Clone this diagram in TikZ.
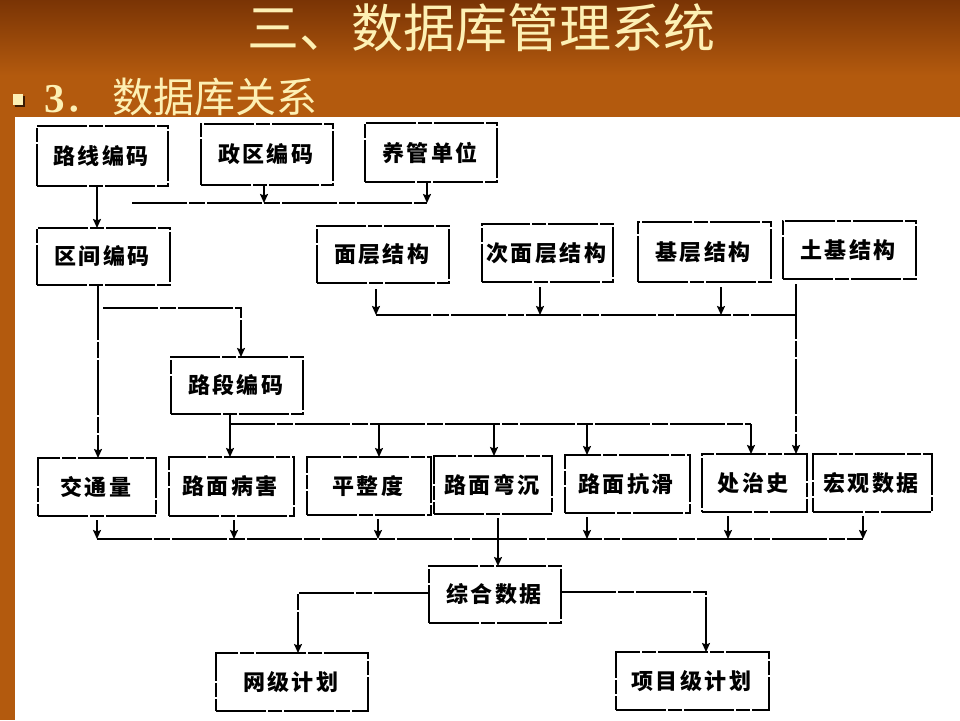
\documentclass[tikz,border=0pt]{standalone}
\usepackage{fontspec}
\setmainfont{Liberation Serif}
\newfontfamily\cjk{Noto Sans CJK SC}
\usetikzlibrary{arrows.meta}
\definecolor{bgtop}{HTML}{7A3405}
\definecolor{bgmid}{HTML}{B35A0E}
\definecolor{cream}{HTML}{FDF0B4}
\definecolor{shad}{HTML}{3A1A02}
\def\spc#1{\spcA#1\relax}
\def\spcA#1{\ifx#1\relax\else#1\kern2.5pt\expandafter\spcA\fi}
\tikzset{
  bx/.style={draw=black, fill=white, line width=1.6pt, inner sep=0pt, outer sep=0pt,
    dash pattern=on 50pt off 2pt on 14pt off 2pt,
    font=\cjk\bfseries\fontsize{22}{22}\selectfont},
  ln/.style={draw=black, line width=1.6pt, dash pattern=on 55pt off 2pt on 16pt off 2pt},
  ar/.style={ln, -{Stealth[length=9pt,width=8pt,inset=1.5pt]}},
  ttl/.style={font=\cjk\fontsize{52}{52}\selectfont, inner sep=0pt, text=cream},
}
\begin{document}
\begin{tikzpicture}[x=1pt,y=-1pt]
\useasboundingbox (0,0) rectangle (960,720);
% background
\fill[bgmid] (0,0) rectangle (960,720);
\shade[top color=bgtop, bottom color=bgmid] (0,0) rectangle (960,75);
\fill[white] (15,117) rectangle (960,720);
% title
\node[ttl] (title) at (481,28) {三、数据库管理系统};
% subtitle
\fill[shad] (15,96) rectangle (25,107);
\fill[cream] (13,94) rectangle (23,105);
\node[anchor=west, inner sep=0pt, text=cream] (sub) at (44,97)
  {\fontsize{41}{41}\selectfont\bfseries 3{\cjk\mdseries ．\kern7pt 数据库关系}};
% boxes
\node[bx, minimum width=131pt, minimum height=60pt] (lx) at (102.5,156) {\spc{路线编码}};
\node[bx, minimum width=132pt, minimum height=61pt] (zq) at (267,154.5) {\spc{政区编码}};
\node[bx, minimum width=132pt, minimum height=59pt] (yg) at (431,152.5) {\spc{养管单位}};
\node[bx, minimum width=133pt, minimum height=57pt] (qj) at (103.5,256.5) {\spc{区间编码}};
\node[bx, minimum width=132pt, minimum height=57pt] (mc) at (383,254.5) {\spc{面层结构}};
\node[bx, minimum width=131pt, minimum height=58pt] (cm) at (547.5,253) {\spc{次面层结构}};
\node[bx, minimum width=133pt, minimum height=60pt] (jc) at (704.5,252) {\spc{基层结构}};
\node[bx, minimum width=133pt, minimum height=58pt] (tj) at (849.5,250) {\spc{土基结构}};
\node[bx, minimum width=132pt, minimum height=57pt] (ld) at (237,385.5) {\spc{路段编码}};
\node[bx, minimum width=118pt, minimum height=58pt] (jtl) at (97,487) {\spc{交通量}};
\node[bx, minimum width=125pt, minimum height=59pt] (bh) at (231.5,486.5) {\spc{路面病害}};
\node[bx, minimum width=124pt, minimum height=58pt] (pzd) at (369,486) {\spc{平整度}};
\node[bx, minimum width=118pt, minimum height=58pt] (wc) at (493,485) {\spc{路面弯沉}};
\node[bx, minimum width=125pt, minimum height=58pt] (kh) at (627.5,484) {\spc{路面抗滑}};
\node[bx, minimum width=105pt, minimum height=58pt] (czs) at (754.5,483) {\spc{处治史}};
\node[bx, minimum width=119pt, minimum height=58pt] (hg) at (872.5,483) {\spc{宏观数据}};
\node[bx, minimum width=132pt, minimum height=57pt] (zh) at (495,594.5) {\spc{综合数据}};
\node[bx, minimum width=152pt, minimum height=58pt] (wj) at (292,682) {\spc{网级计划}};
\node[bx, minimum width=153pt, minimum height=58pt] (xm) at (692.5,681) {\spc{项目级计划}};
% junction coordinates
\coordinate (c1) at (97,0);
\coordinate (c3) at (98,0);
\coordinate (h1a) at (132,203);
\coordinate (j2) at (264,203);
\coordinate (j3) at (427,203);
\coordinate (b1) at (103,308);
\coordinate (b2) at (241,308);
\coordinate (r0) at (230,424);
\coordinate (r2) at (379,424);
\coordinate (r3) at (494,424);
\coordinate (r4) at (587,424);
\coordinate (r5) at (751,424);
\coordinate (s1) at (376,315);
\coordinate (s2) at (540,315);
\coordinate (s3) at (721,315);
\coordinate (s4) at (796,315);
\coordinate (t1) at (97,539);
\coordinate (t2) at (234,539);
\coordinate (t3) at (378,539);
\coordinate (t4) at (498,539);
\coordinate (t5) at (587,539);
\coordinate (t6) at (728,539);
\coordinate (t7) at (863,539);
\coordinate (u1) at (298,593);
\coordinate (u2) at (706,592);
% connectors: top
\draw[ar] (lx.south -| c1) -- (qj.north -| c1);
\draw[ln] (h1a) -- (j3);
\draw[ar] (zq.south -| j2) -- (j2);
\draw[ar] (yg.south -| j3) -- (j3);
% 区间编码
\draw[ar] (qj.south -| c3) -- (jtl.north -| c3);
\draw[ar] (b1) -- (b2) -- (ld.north -| b2);
% 路段编码
\draw[ln] (ld.south -| r0) -- (r0) -- (r5);
\draw[ar] (r0) -- (bh.north -| r0);
\draw[ar] (r2) -- (pzd.north -| r2);
\draw[ar] (r3) -- (wc.north -| r3);
\draw[ar] (r4) -- (kh.north -| r4);
\draw[ar] (r5) -- (czs.north -| r5);
% structure
\draw[ln] (s1) -- (s4);
\draw[ar, shorten <=6pt] (mc.south -| s1) -- (s1);
\draw[ar, shorten <=5pt] (cm.south -| s2) -- (s2);
\draw[ar, shorten <=5pt] (jc.south -| s3) -- (s3);
\draw[ar, shorten <=5pt] (tj.south -| s4) -- (czs.north -| s4);
% bottom collector
\draw[ln] (t1) -- (t7);
\draw[ar, shorten <=4pt] (jtl.south -| t1) -- (t1);
\draw[ar, shorten <=4pt] (bh.south -| t2) -- (t2);
\draw[ar, shorten <=4pt] (pzd.south -| t3) -- (t3);
\draw[ar, shorten <=4pt] (kh.south -| t5) -- (t5);
\draw[ar, shorten <=4pt] (czs.south -| t6) -- (t6);
\draw[ar, shorten <=4pt] (hg.south -| t7) -- (t7);
\draw[ar, shorten <=4pt] (wc.south -| t4) -- (zh.north -| t4);
% outputs
\draw[ar] (zh.west |- u1) -- (u1) -- (wj.north -| u1);
\draw[ar] (zh.east |- u2) -- (u2) -- (xm.north -| u2);
\end{tikzpicture}
\end{document}
